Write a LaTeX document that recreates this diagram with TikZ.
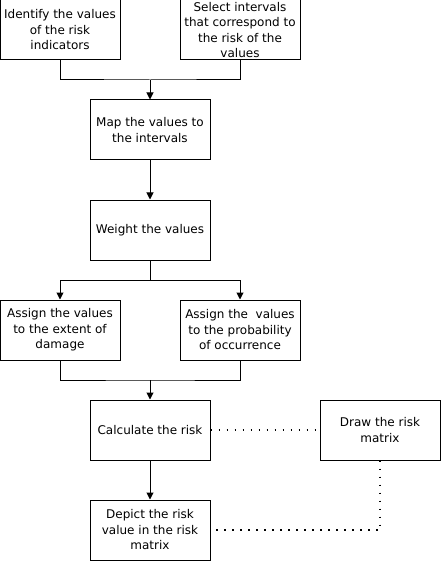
\documentclass[tikz,border=0pt]{standalone}
\usepackage{fontspec}
\setmainfont{DejaVu Sans}
\usetikzlibrary{arrows.meta}

\begin{document}
\begin{tikzpicture}[x=1pt, y=1pt, line width=1pt, font=\fontsize{12}{15.5}\selectfont]
        \tikzstyle{step box}=[rectangle,draw,minimum width=120pt,minimum height=60pt,inner sep=1pt,align=center]
        \tikzstyle{flow}=[-{Triangle[length=7pt,width=7pt]}]
        \tikzstyle{link}=[line width=1.6pt,dash pattern=on 1.6pt off 6.4pt]

        \useasboundingbox (0,0) rectangle (441,-561);

        \node[step box] (S_1) at (60,-30)   {Identify the values\\of the risk\\indicators};
        \node[step box] (S_2) at (240,-30)  {Select intervals\\that correspond to\\the risk of the\\values};
        \node[step box] (S_3) at (150,-130) {Map the values to\\the intervals};
        \node[step box] (S_4) at (150,-230) {Weight the values};
        \node[step box] (S_5) at (60,-330)  {Assign the values\\to the extent of\\damage};
        \node[step box] (S_6) at (240,-330) {Assign the\ \ values\\to the probability\\of occurrence};
        \node[step box] (S_7) at (150,-430) {Calculate the risk};
        \node[step box] (S_8) at (380,-430) {Draw the risk\\matrix};
        \node[step box] (S_9) at (150,-530) {Depict the risk\\value in the risk\\matrix};

        \draw (S_1.south) |- (150,-80) -| (S_2.south);
        \draw[flow] (150,-80) -- (S_3);
        \draw[flow] (S_3) -- (S_4);
        \draw (S_4.south) -- (150,-280);
        \draw[flow] (150,-280) -| (S_5.north);
        \draw[flow] (150,-280) -| (S_6.north);
        \draw (S_5.south) |- (150,-380) -| (S_6.south);
        \draw[flow] (150,-380) -- (S_7);
        \draw[flow] (S_7) -- (S_9);
        \draw[link] (S_7) -- (S_8);
        \draw[link] (S_8.south) |- (S_9.east);
    \end{tikzpicture}
\end{document}
